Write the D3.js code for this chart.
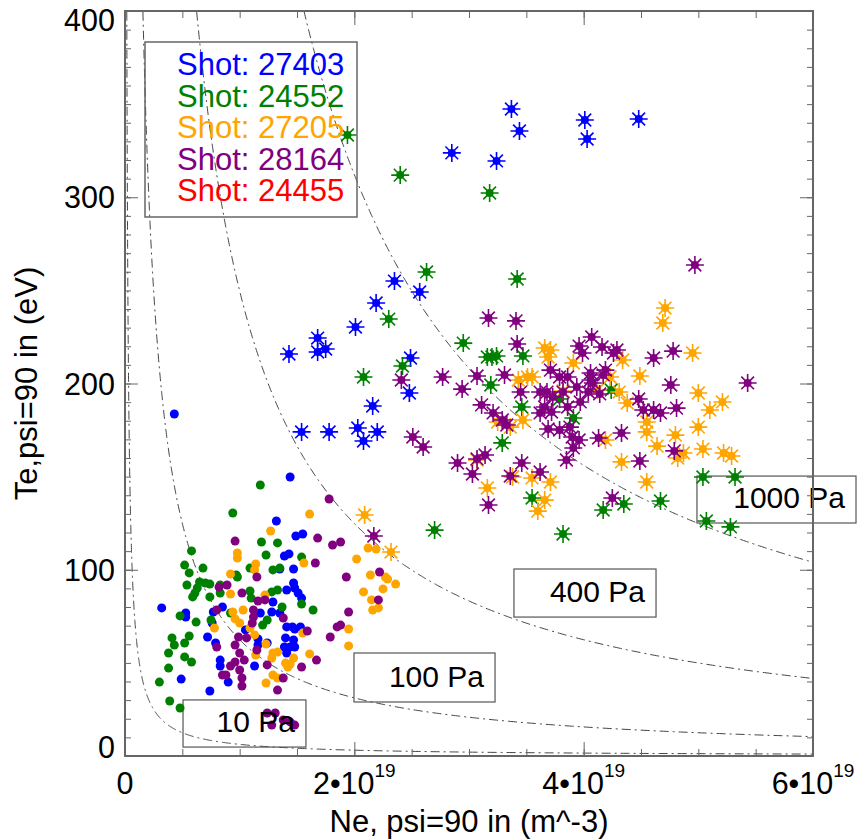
<!DOCTYPE html>
<html><head><meta charset="utf-8">
<script src="https://cdn.jsdelivr.net/npm/d3@7"></script>
<style>
body{margin:0;background:#fff}
svg{display:block}
text{font-family:"Liberation Sans",Arial,Helvetica,sans-serif}
</style>
</head><body>
<svg id="chart" width="858" height="839"></svg>
<script>
// ---------------- data ----------------
const shots = ["27403", "24552", "27205", "28164", "24455"];
const shotColors = ["#0000ff", "#008000", "#ffa500", "#800080", "#ff0000"];
const xTickValues = [0, 2, 4, 6];          // Ne in units of 10^19 m^-3
const yTickValues = [0, 100, 200, 300, 400]; // Te in eV
const pressures = [10, 100, 400, 1000];      // Pa
const pressureLabels = ["10 Pa", "100 Pa", "400 Pa", "1000 Pa"];

// [Ne (1e19 m^-3), Te (eV)]
const blueStars = [[3.37,347.4],[3.44,335.6],[2.85,323.8],[3.24,319.5],[4.01,341.5],[4.03,331.3],[4.48,342.0],[2.35,255.0],[2.57,249.1],[2.19,243.2],[2.01,230.3],[1.68,224.4],[1.43,215.8],[1.68,216.9],[1.75,218.5],[2.49,213.7],[2.16,187.9],[2.48,194.9],[1.54,174.0],[1.78,174.0],[2.03,176.1],[2.08,169.1],[2.20,174.0]];
const greenStars = [[1.94,333.4],[2.40,311.9],[3.18,302.3],[2.63,259.9],[3.42,256.1],[2.30,234.6],[2.95,221.7],[3.16,214.2],[3.20,214.2],[3.24,214.8],[3.47,214.8],[2.42,209.4],[2.08,203.5],[3.19,199.2],[3.46,187.4],[3.91,181.5],[4.24,196.5],[3.79,191.7],[3.29,168.1],[3.55,138.5],[4.17,132.1],[4.35,135.3],[4.67,136.9],[5.04,149.8],[5.32,149.8],[5.07,126.2],[5.28,123.0],[2.70,121.3],[3.82,119.2]];
const orangeStars = [[4.71,240.5],[4.69,232.5],[4.95,216.4],[3.66,219.1],[3.71,218.0],[3.69,214.2],[3.91,211.0],[4.34,212.6],[3.51,203.5],[3.55,203.5],[3.82,196.0],[4.31,195.4],[4.49,204.0],[4.38,189.5],[5.00,194.9],[5.21,190.1],[5.10,185.8],[5.00,176.6],[4.55,179.3],[4.55,174.0],[4.80,172.3],[4.64,166.4],[5.04,164.8],[4.87,162.7],[4.82,160.0],[5.22,162.7],[5.29,161.1],[4.33,157.9],[4.55,147.1],[3.47,180.4],[3.25,179.3],[3.36,176.6],[4.19,169.7],[3.16,143.9],[3.38,149.8],[3.55,149.3],[3.71,147.1],[3.66,137.4],[3.60,131.5],[3.07,158.9],[3.43,201.9],[4.12,196.5],[2.09,129.4],[2.32,109.5],[4.23,203.5]];
const purpleStars = [[4.97,263.6],[3.17,235.2],[3.41,233.6],[3.42,221.2],[2.77,203.5],[2.94,197.0],[3.07,204.0],[3.31,204.6],[3.11,188.5],[3.21,184.2],[3.29,180.4],[3.33,177.7],[3.45,195.4],[3.96,220.1],[4.07,225.0],[4.16,219.6],[4.26,216.4],[4.29,218.0],[3.99,216.4],[3.71,207.2],[3.79,203.5],[3.86,203.5],[4.06,205.6],[4.17,204.6],[4.19,207.2],[3.62,195.4],[3.68,195.4],[3.94,198.1],[4.04,195.4],[4.14,194.4],[3.97,190.1],[3.66,187.4],[3.72,184.7],[3.86,187.4],[3.69,175.6],[3.79,175.0],[3.88,176.6],[3.90,171.3],[3.96,169.7],[4.13,170.7],[3.91,165.4],[3.85,158.9],[4.33,173.4],[4.48,191.7],[4.52,185.8],[4.61,185.8],[4.67,184.2],[4.81,186.8],[4.76,199.2],[4.61,213.7],[4.78,217.4],[5.43,200.3],[4.79,163.8],[4.49,158.4],[2.60,165.9],[2.90,157.3],[3.07,159.5],[3.14,161.6],[3.03,151.4],[3.36,150.3],[3.46,157.3],[3.62,152.5],[3.17,134.8],[4.25,138.5],[2.41,201.9],[2.51,171.3],[2.17,118.1],[4.06,201.9],[3.73,192.8],[3.82,195.4],[4.08,200.3],[3.62,184.2]];
const redStars = [];

const blueDots = [[0.43,183.6],[1.44,149.8],[1.32,126.2],[1.49,118.1],[1.55,119.2],[1.39,107.4],[1.43,108.5],[1.35,100.4],[1.47,100.4],[1.47,92.9],[1.48,90.2],[1.51,87.5],[1.54,84.8],[1.29,82.7],[1.28,77.3],[0.32,79.5],[0.53,76.8],[0.53,74.6],[0.77,77.3],[0.85,80.0],[0.76,71.4],[1.05,67.7],[1.16,62.8],[1.16,59.6],[1.24,60.7],[1.41,69.3],[1.46,69.3],[1.48,68.2],[1.53,69.3],[1.40,63.4],[1.47,62.3],[1.44,58.5],[1.39,58.5],[1.41,55.3],[1.48,58.5],[0.72,63.9],[0.79,60.7],[0.83,51.5],[0.83,48.3],[0.90,39.7],[1.13,48.3],[0.49,41.3],[0.74,34.9],[1.41,89.1],[1.35,76.8],[1.18,76.8]];
const greenDots = [[1.18,145.5],[0.94,130.5],[0.58,110.1],[1.19,114.9],[1.33,114.4],[1.54,106.8],[1.23,107.9],[1.09,100.9],[1.29,99.9],[1.35,100.9],[0.98,96.1],[0.52,102.5],[0.56,98.3],[0.68,100.9],[0.54,91.8],[0.65,93.4],[0.70,92.9],[0.74,92.3],[0.83,91.8],[0.63,90.2],[0.59,85.4],[0.61,87.5],[0.74,85.4],[1.09,88.6],[1.10,84.8],[1.33,89.1],[1.28,88.1],[1.54,81.6],[1.64,78.4],[1.37,80.0],[0.48,75.2],[0.62,71.9],[0.75,73.0],[0.92,76.8],[1.24,73.0],[1.20,70.3],[0.41,63.4],[0.43,59.6],[0.56,64.4],[0.52,60.7],[0.38,55.3],[0.52,53.2],[0.58,50.5],[0.38,47.2],[0.30,39.7],[0.39,29.5],[0.48,25.8],[0.97,97.2],[0.83,87.5]];
const orangeDots = [[1.61,129.9],[1.27,120.8],[0.98,109.0],[0.98,106.3],[1.14,103.1],[1.13,99.9],[0.92,97.7],[1.56,103.6],[0.92,87.0],[1.22,86.4],[0.94,77.3],[1.03,78.4],[0.78,68.7],[0.96,73.6],[1.00,71.4],[1.09,68.7],[1.13,65.0],[1.23,60.1],[1.29,55.3],[1.28,52.6],[1.33,55.8],[1.14,54.2],[1.40,49.9],[1.42,47.8],[1.47,52.6],[1.61,54.8],[1.55,66.0],[1.29,43.5],[1.33,41.9],[1.23,39.2],[2.12,111.7],[2.19,111.1],[2.02,105.8],[2.14,97.2],[2.27,96.1],[2.29,95.0],[2.36,92.3],[2.25,89.7],[2.08,88.1],[2.15,83.8],[2.21,79.5],[2.16,78.4],[1.95,68.2],[1.95,59.1],[1.44,49.4]];
const purpleDots = [[1.78,138.0],[0.96,115.4],[1.68,117.0],[1.81,113.3],[1.88,114.9],[1.66,103.6],[1.15,96.1],[0.89,91.8],[0.82,90.7],[1.02,87.5],[1.16,83.2],[1.22,83.8],[0.80,78.4],[1.12,78.4],[1.12,74.6],[1.11,71.4],[0.99,63.9],[1.06,63.4],[0.96,59.6],[1.00,55.3],[0.80,58.5],[0.96,50.5],[1.04,51.5],[0.92,48.3],[1.00,46.2],[1.02,41.9],[0.85,43.5],[0.88,43.5],[1.02,37.6],[1.24,48.9],[1.33,35.4],[1.38,41.9],[1.54,47.8],[1.59,67.1],[1.38,74.1],[1.67,51.5],[1.79,63.9],[1.85,69.3],[1.88,70.3],[1.95,77.3],[1.93,96.1],[2.22,98.8],[2.21,83.8],[1.24,23.1],[1.31,23.1],[1.38,19.3],[1.28,16.6],[1.48,16.6],[1.44,18.3],[1.15,56.9]];
const redDots = [];

const dotSeries = [blueDots, greenDots, orangeDots, purpleDots, redDots];
const starSeries = [blueStars, greenStars, orangeStars, purpleStars, redStars];

// ---------------- layout ----------------
const L = {left: 125, right: 813, top: 11, bottom: 756};
// label boxes in data units: [n0, n1, Ttop, Tbottom]
const boxSpec = [[0.506, 1.578, 30.1, 4.8], [1.997, 3.227, 55.3, 29.0], [3.392, 4.631, 100.4, 74.6], [4.988, 6.375, 150.3, 125.1]];

const svg = d3.select("#chart");
const x = d3.scaleLinear().domain([0, 6]).range([L.left, L.right]);
const y = d3.scaleLinear().domain([0, 400]).range([L.bottom, L.top]);
const axisColor = "#666";

svg.append("defs").append("clipPath").attr("id", "plotclip")
  .append("rect").attr("x", L.left).attr("y", L.top)
  .attr("width", L.right - L.left).attr("height", L.bottom - L.top);

// isobars: p = Ne * Te * e
const eCharge = 1.602; // 1e19 * 1.602e-19
const line = d3.line().x(d => x(d[0])).y(d => y(d[1]));
const isoG = svg.append("g").attr("clip-path", "url(#plotclip)");
pressures.forEach(p => {
  const nMin = p / (eCharge * 420);
  const pts = d3.range(0, 601).map(i => {
    const n = nMin * Math.pow(6.05 / nMin, i / 600);
    return [n, p / (eCharge * n)];
  });
  isoG.append("path").attr("d", line(pts)).attr("fill", "none")
    .attr("stroke", "#444").attr("stroke-width", 1)
    .attr("stroke-dasharray", "9,4,2,4");
});

// label boxes
const boxG = svg.append("g");
boxSpec.forEach(b => {
  boxG.append("rect").attr("x", x(b[0])).attr("y", y(b[2]))
    .attr("width", x(b[1]) - x(b[0])).attr("height", y(b[3]) - y(b[2]))
    .attr("fill", "none").attr("stroke", "#555").attr("stroke-width", 1.2);
});

// legend box
svg.append("rect").attr("x", 145).attr("y", 42).attr("width", 212).attr("height", 175)
  .attr("fill", "none").attr("stroke", "#666").attr("stroke-width", 1.5);

// markers
const starPath = (() => {
  const r = 9, d = r * Math.SQRT1_2;
  return `M${-r},0L${r},0M0,${-r}L0,${r}M${-d},${-d}L${d},${d}M${-d},${d}L${d},${-d}`;
})();
const markG = svg.append("g");
shots.forEach((s, i) => {
  const c = shotColors[i];
  markG.append("g").selectAll("circle").data(dotSeries[i]).join("circle")
    .attr("cx", d => x(d[0])).attr("cy", d => y(d[1])).attr("r", 4.5).attr("fill", c);
  const sg = markG.append("g").selectAll("g").data(starSeries[i]).join("g")
    .attr("transform", d => `translate(${x(d[0])},${y(d[1])})`);
  sg.append("path").attr("d", starPath).attr("stroke", c).attr("stroke-width", 1.6).attr("fill", "none");
  sg.append("circle").attr("r", 4).attr("fill", c);
});

// label texts
boxSpec.forEach((b, i) => {
  svg.append("text").attr("x", x(b[1]) - 11).attr("y", y(b[3]) - 15)
    .attr("text-anchor", "end").attr("font-size", 30).attr("fill", "#000")
    .text(pressureLabels[i]);
});

// legend texts
shots.forEach((s, i) => {
  svg.append("text").attr("x", 177).attr("y", 75 + i * 31.6)
    .attr("font-size", 31).attr("fill", shotColors[i]).text("Shot: " + s);
});

// axes
const minorX = d3.range(0, 6.01, 0.5);
const minorY = d3.range(0, 401, 10);
function styleAxis(g) {
  g.select(".domain").remove();
  g.selectAll(".tick line").attr("stroke", axisColor).attr("stroke-width", 1);
  g.selectAll(".tick text").remove();
}
svg.append("g").attr("transform", `translate(0,${L.bottom})`)
  .call(d3.axisBottom(x).tickValues(minorX).tickSize(-7).tickFormat("")).call(styleAxis);
svg.append("g").attr("transform", `translate(0,${L.bottom})`)
  .call(d3.axisBottom(x).tickValues(xTickValues).tickSize(-14).tickFormat("")).call(styleAxis);
svg.append("g").attr("transform", `translate(0,${L.top})`)
  .call(d3.axisTop(x).tickValues(minorX).tickSize(-7).tickFormat("")).call(styleAxis);
svg.append("g").attr("transform", `translate(0,${L.top})`)
  .call(d3.axisTop(x).tickValues(xTickValues).tickSize(-14).tickFormat("")).call(styleAxis);
svg.append("g").attr("transform", `translate(${L.left},0)`)
  .call(d3.axisLeft(y).tickValues(minorY).tickSize(-6).tickFormat("")).call(styleAxis);
svg.append("g").attr("transform", `translate(${L.left},0)`)
  .call(d3.axisLeft(y).tickValues(yTickValues).tickSize(-13).tickFormat("")).call(styleAxis);
svg.append("g").attr("transform", `translate(${L.right},0)`)
  .call(d3.axisRight(y).tickValues(minorY).tickSize(-6).tickFormat("")).call(styleAxis);
svg.append("g").attr("transform", `translate(${L.right},0)`)
  .call(d3.axisRight(y).tickValues(yTickValues).tickSize(-13).tickFormat("")).call(styleAxis);

svg.append("rect").attr("x", L.left).attr("y", L.top)
  .attr("width", L.right - L.left).attr("height", L.bottom - L.top)
  .attr("fill", "none").attr("stroke", axisColor).attr("stroke-width", 2);

// tick labels
yTickValues.forEach(v => {
  const cy = Math.min(Math.max(y(v), L.top + 9), L.bottom - 9);
  svg.append("text").attr("x", L.left - 10).attr("y", cy + 11)
    .attr("text-anchor", "end").attr("font-size", 30.5).text(v);
});
xTickValues.forEach(v => {
  const t = svg.append("text").attr("x", x(v)).attr("y", 794)
    .attr("text-anchor", "middle").attr("font-size", 30.5);
  if (v === 0) { t.text("0"); return; }
  t.append("tspan").text(v + "\u202210");
  t.append("tspan").attr("dy", -17).attr("font-size", 19).text("19");
});

// axis titles
svg.append("text").attr("x", (L.left + L.right) / 2).attr("y", 832)
  .attr("text-anchor", "middle").attr("font-size", 31).text("Ne, psi=90 in (m^-3)");
svg.append("text").attr("transform", `translate(37,${(L.top + L.bottom) / 2}) rotate(-90)`)
  .attr("text-anchor", "middle").attr("font-size", 31).text("Te,psi=90 in (eV)");
</script>
</body></html>
